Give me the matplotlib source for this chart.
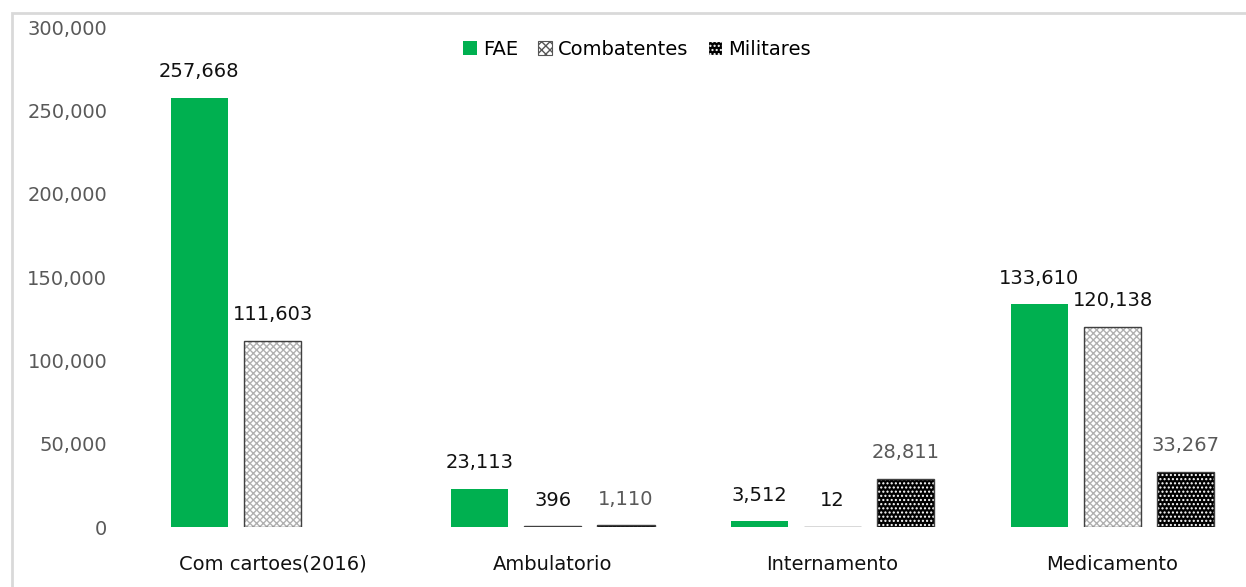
import numpy as np
import matplotlib as mpl
mpl.use('Agg')
import matplotlib.pyplot as plt
from matplotlib.patches import Rectangle
from matplotlib.ticker import FuncFormatter

categories = ["Com cartoes(2016)", "Ambulatorio", "Internamento", "Medicamento"]
fae = [257668, 23113, 3512, 133610]
combatentes = [111603, 396, 12, 120138]
militares = [0, 1110, 28811, 33267]

green = "#00b050"
grey_txt = "#595959"

fig = plt.figure(figsize=(12.46, 5.87), dpi=100)
ax = fig.add_axes([0.104, 0.102, 0.892, 0.852])

x = np.arange(len(categories))
w = 0.204
off = 0.262

ax.bar(x - off, fae, w, color=green, zorder=2)

# combatentes: light cross hatch with dark outline
ax.bar(x, combatentes, w, color="white", edgecolor="#b0b0b0", hatch="xxxxx",
       linewidth=0, zorder=2)
ax.bar(x, combatentes, w, fill=False, edgecolor="#404040", linewidth=1.0, zorder=3)

# militares: black with white dots (skip empty bars)
xm = [xi + off for xi, v in zip(x, militares) if v > 0]
vm = [v for v in militares if v > 0]
ax.bar(xm, vm, w, color="black", edgecolor="white", hatch="....",
       linewidth=0, zorder=2)
ax.bar(xm, vm, w, fill=False, edgecolor="#404040", linewidth=1.0, zorder=3)


def lab(xs, vals, color, skip_zero=False):
    for xi, v in zip(xs, vals):
        if skip_zero and v == 0:
            continue
        ax.annotate(f"{v:,}", (xi, v), xytext=(0, 12), textcoords="offset points",
                    ha="center", va="bottom", fontsize=14, color=color)


lab(x - off, fae, "#111111")
lab(x, combatentes, "#111111")
lab(x + off, militares, grey_txt, skip_zero=True)

ax.set_xlim(-0.511, 3.459)
ax.set_ylim(0, 300000)
ax.set_yticks(np.arange(0, 300001, 50000))
ax.yaxis.set_major_formatter(FuncFormatter(lambda v, p: f"{int(v):,}"))
ax.set_xticks(x)
ax.set_xticklabels(categories)
ax.tick_params(axis="y", length=0, labelsize=14, labelcolor=grey_txt, pad=16)
ax.tick_params(axis="x", length=0, labelsize=14, labelcolor="#111111", pad=20)
for s in ax.spines.values():
    s.set_visible(False)

h1 = Rectangle((0, 0), 1, 1, facecolor=green)
h2 = Rectangle((0, 0), 1, 1, facecolor="white", edgecolor="#555555", hatch="xxxx", linewidth=0.8)
h3 = Rectangle((0, 0), 1, 1, facecolor="black", edgecolor="white", hatch="....", linewidth=0.8)
ax.legend([h1, h2, h3], ["FAE", "Combatentes", "Militares"], ncol=3, frameon=False,
          loc="center", bbox_to_anchor=(0.511, 0.916), bbox_transform=fig.transFigure,
          fontsize=14, handlelength=0.75, handleheight=0.75, handletextpad=0.3,
          columnspacing=1.0)

# light grey frame around chart area
fig.add_artist(Rectangle((12 / 1246, -0.01), 1.0, 1 - 13 / 587 + 0.01,
                         transform=fig.transFigure, fill=False,
                         edgecolor="#d9d9d9", linewidth=2))

fig.savefig("out.png", dpi=100)
